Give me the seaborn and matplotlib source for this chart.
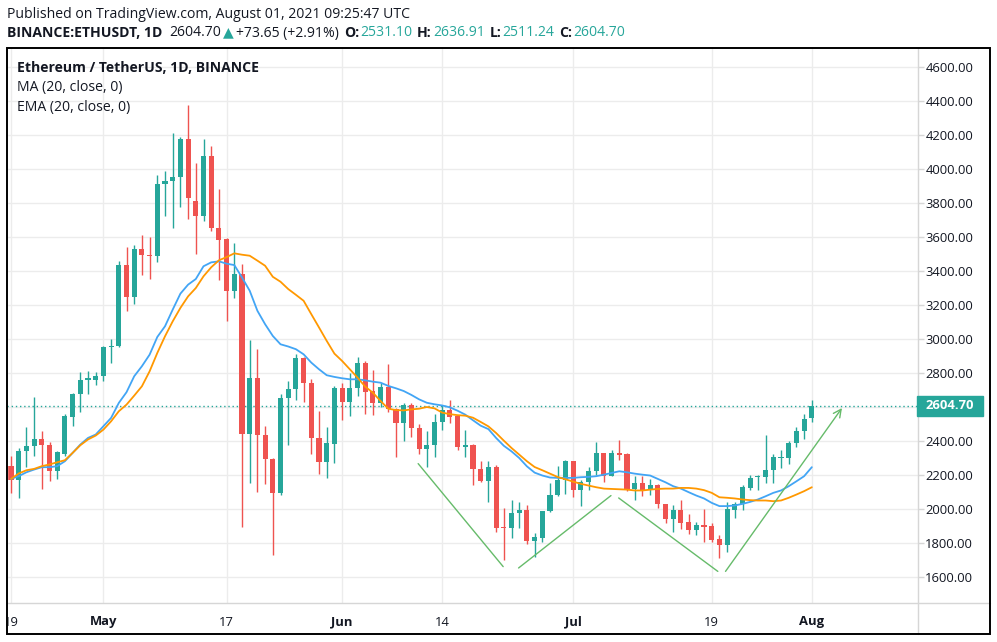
import numpy as np
import pandas as pd
import matplotlib
matplotlib.use("Agg")
import matplotlib.pyplot as plt
import matplotlib.transforms as mtransforms
from matplotlib.patches import Rectangle
from matplotlib.lines import Line2D
import seaborn as sns

W, H = 997, 642

# ETH/USDT daily candles, Apr 19 - Aug 1 2021
dates = pd.date_range("2021-04-19", "2021-08-01", freq="D")

opens = [
    2250, 2167, 2338, 2367, 2407, 2377, 2220, 2324, 2538, 2675, 2755, 2759,
    2779, 2951, 2955, 3434, 3244, 3528, 3494, 3484, 3910, 3926, 3949, 4176, 3812, 3720, 4077, 3653,
    3588, 3280, 3380, 2440, 2769, 2431, 2293, 2093, 2649, 2702, 2885, 2741, 2413, 2276, 2382,
    2712, 2629, 2708, 2859, 2692, 2623, 2718, 2588, 2506, 2610, 2472, 2352, 2372, 2509, 2578,
    2547, 2363, 2373, 2236, 2161, 2244, 1891, 1884, 1972, 1991, 1809, 1829, 1985, 2083, 2167,
    2279, 2107, 2157, 2224, 2328, 2195, 2328, 2322, 2116, 2152, 2112, 2142, 2028, 1942, 1995,
    1921, 1874, 1903, 1897, 1819, 1786, 1995, 2028, 2122, 2185, 2185, 2230, 2298, 2298, 2384, 2459,
    2531.10,
]
highs = [
    2312, 2358, 2481, 2655, 2456, 2390, 2340, 2554, 2681, 2804, 2808, 2804,
    2959, 2998, 3459, 3537, 3551, 3612, 3596, 3965, 3988, 4210, 4184, 4376, 4033, 4175, 4135, 3880,
    3594, 3565, 3440, 2993, 2940, 2486, 2297, 2673, 2751, 2908, 2894, 2761, 2574, 2480, 2722,
    2737, 2800, 2895, 2867, 2816, 2741, 2849, 2590, 2623, 2623, 2500, 2456, 2555, 2610, 2637,
    2550, 2465, 2380, 2279, 2279, 2259, 2005, 2050, 2040, 2019, 1858, 1989, 2152, 2249, 2289,
    2282, 2171, 2244, 2390, 2330, 2347, 2406, 2328, 2191, 2195, 2177, 2148, 2028, 2020, 2048,
    1966, 1923, 1999, 1917, 1844, 2040, 2040, 2142, 2200, 2197, 2431, 2322, 2343, 2396, 2478, 2556,
    2636.91,
]
lows = [
    2093, 2064, 2244, 2309, 2113, 2162, 2177, 2310, 2485, 2567, 2675, 2726,
    2750, 2857, 2950, 3161, 3204, 3377, 3353, 3449, 3724, 3649, 3773, 3704, 3500, 3690, 3631, 3343,
    3105, 3240, 1890, 2152, 2099, 2146, 1729, 2079, 2374, 2639, 2627, 2323, 2205, 2181, 2270,
    2521, 2545, 2663, 2555, 2553, 2600, 2570, 2305, 2400, 2421, 2319, 2248, 2305, 2460, 2504,
    2347, 2302, 2138, 2157, 2040, 1864, 1698, 1825, 1888, 1794, 1717, 1805, 1981, 2077, 2089,
    2067, 2015, 2112, 2197, 2157, 2191, 2285, 2105, 2048, 2073, 2083, 2005, 1917, 1864, 1882,
    1852, 1844, 1805, 1805, 1708, 1747, 1946, 1991, 2107, 2107, 2152, 2152, 2240, 2263, 2361, 2412,
    2511.24,
]
closes = [
    2167, 2342, 2371, 2407, 2375, 2220, 2332, 2544, 2677, 2759, 2767, 2783,
    2951, 2959, 3434, 3244, 3528, 3490, 3484, 3912, 3930, 3949, 4176, 3826, 3720, 4077, 3649, 3583,
    3280, 3380, 2440, 2769, 2431, 2293, 2093, 2649, 2702, 2885, 2741, 2413, 2276, 2386, 2712,
    2629, 2712, 2859, 2688, 2623, 2718, 2588, 2506, 2610, 2472, 2352, 2372, 2509, 2578, 2539,
    2363, 2373, 2234, 2161, 2244, 1888, 1884, 1972, 1991, 1809, 1833, 1985, 2083, 2167, 2279,
    2107, 2157, 2224, 2328, 2195, 2328, 2318, 2116, 2152, 2112, 2142, 2028, 1942, 1995, 1913,
    1874, 1903, 1891, 1815, 1786, 1999, 2028, 2126, 2181, 2193, 2230, 2302, 2302, 2384, 2459, 2529,
    2604.70,
]

# MA (20) - orange line
ma20 = [
    2175, 2207, 2226, 2234, 2250, 2260, 2273, 2285, 2328, 2373, 2407, 2430,
    2465, 2514, 2573, 2612, 2665, 2720, 2808, 2916, 3014, 3102, 3181, 3249, 3298, 3367, 3420, 3461,
    3480, 3502, 3494, 3488, 3459, 3429, 3364, 3335, 3292, 3258, 3223, 3144, 3066, 2987, 2912,
    2869, 2820, 2771, 2718, 2682, 2633, 2588, 2580, 2578, 2584, 2588, 2598, 2590, 2565, 2556,
    2550, 2547, 2535, 2510, 2484, 2445, 2400, 2357, 2318, 2279, 2245, 2226, 2206, 2186, 2173,
    2159, 2146, 2136, 2126, 2118, 2116, 2114, 2112, 2107, 2107, 2112, 2116, 2118, 2118, 2122,
    2122, 2118, 2109, 2093, 2067, 2064, 2060, 2054, 2050, 2048, 2048, 2044, 2048, 2064, 2083, 2103,
    2126,
]
# EMA (20) - blue line
ema20 = [
    2175, 2191, 2214, 2230, 2244, 2244, 2250, 2279, 2328, 2377, 2416, 2436,
    2485, 2534, 2622, 2685, 2779, 2838, 2906, 3010, 3073, 3171, 3265, 3318, 3351, 3426, 3449, 3455,
    3441, 3433, 3360, 3282, 3164, 3085, 3016, 2967, 2954, 2938, 2908, 2859, 2820, 2785, 2775,
    2767, 2761, 2761, 2755, 2747, 2741, 2722, 2708, 2692, 2669, 2643, 2623, 2614, 2607, 2596,
    2576, 2553, 2520, 2488, 2468, 2416, 2370, 2337, 2298, 2249, 2212, 2195, 2183, 2181, 2181,
    2181, 2185, 2187, 2191, 2200, 2210, 2220, 2214, 2206, 2200, 2195, 2175, 2155, 2132, 2118,
    2097, 2077, 2060, 2034, 2015, 2015, 2019, 2028, 2040, 2054, 2073, 2093, 2107, 2132, 2161, 2191,
    2244,
]

# hand drawn "double bottom" lines (time, price)
draw_times = ["2021-06-10 21:00", "2021-06-21 22:00", "2021-06-23 22:00", "2021-07-05 22:00",
              "2021-07-06 22:00", "2021-07-19 19:00", "2021-07-20 19:00", "2021-08-04 22:00"]
draw_prices = [2265, 1659, 1651, 2077, 2063, 1631, 1631, 2592]

last_price = 2604.70
price_ticks = list(range(1600, 4601, 200))
date_ticks = ["2021-04-19", "2021-05-01", "2021-05-17", "2021-06-01",
              "2021-06-14", "2021-07-01", "2021-07-19", "2021-08-01"]
date_labels = ["19", "May", "17", "Jun", "14", "Jul", "19", "Aug"]

GREEN = "#26a69a"
RED = "#ef5350"
BLUE = "#42a5f5"
ORANGE = "#ff9800"
TEXT = "#131722"
GRID = "#ececec"
SEP = "#d6d6d6"
FS = 9.4      # axis labels
FS_TXT = 10.05  # header / legend

sns.set_style("white")
plt.rcParams["font.family"] = ["Open Sans", "DejaVu Sans"]

df = pd.DataFrame({"date": dates, "open": opens, "high": highs, "low": lows,
                   "close": closes, "ma": ma20, "ema": ema20})

fig = plt.figure(figsize=(W / 100, H / 100), dpi=100)
ax = fig.add_axes([7 / W, 1 - 603 / H, (917.7 - 7) / W, (603 - 48) / H])

# candles
up = df["close"] >= df["open"]
cols = np.where(up, GREEN, RED)
ax.vlines(df["date"], df["low"], df["high"], colors=cols, lw=1, zorder=3)
ax.bar(df["date"], (df["close"] - df["open"]).abs().clip(lower=8),
       bottom=df[["open", "close"]].min(axis=1), width=0.66, color=cols,
       linewidth=0, zorder=4)

# moving averages
sns.lineplot(data=df, x="date", y="ema", ax=ax, color=BLUE, lw=1.3, zorder=5)
sns.lineplot(data=df, x="date", y="ma", ax=ax, color=ORANGE, lw=1.3, zorder=5)

# last price dotted line
ax.axhline(last_price, color=GREEN, lw=1, ls=(0, (1, 2)), zorder=2)

# drawing: W pattern
tt = pd.to_datetime(draw_times)
for i in range(0, 6, 2):
    ax.plot(tt[i:i + 2], draw_prices[i:i + 2], color="#66bb6a", lw=1, zorder=6)
ax.annotate("", xy=(tt[7], draw_prices[7]), xytext=(tt[6], draw_prices[6]),
            arrowprops=dict(arrowstyle="->", color="#66bb6a", lw=1,
                            shrinkA=0, shrinkB=0, mutation_scale=14), zorder=6)

ax.set_xlim(dates[0] - pd.Timedelta(days=0.52), dates[0] + pd.Timedelta(days=117.75))
ax.set_ylim(1445, 4710)
ax.set_xlabel("")
ax.set_ylabel("")

ax.set_yticks(price_ticks)
# the 2600 label sits under the last-price tag, as in the original
ax.set_yticklabels(["" if abs(p - last_price) < 60 else f"{p:.2f}" for p in price_ticks])
ax.yaxis.tick_right()
ax.set_xticks(pd.to_datetime(date_ticks))
ax.set_xticklabels(date_labels)
for lab in ax.get_xticklabels():
    if lab.get_text().isalpha():
        lab.set_fontweight("bold")
ax.tick_params(axis="y", length=4, width=1, color=SEP, pad=1.5, labelsize=FS, labelcolor=TEXT)
ax.tick_params(axis="x", length=4, width=1, color=SEP, pad=5, labelsize=FS, labelcolor=TEXT)
ax.grid(True, color=GRID, lw=1)
ax.set_axisbelow(True)
for s in ax.spines.values():
    s.set_visible(False)

# frame, separators, mask for the cut tick label
fig.add_artist(Rectangle((0, 0), 7 / W, 1 - 48 / H, transform=fig.transFigure,
                         color="white", zorder=9))
fig.add_artist(Line2D([917.7 / W] * 2, [1 - 48 / H, 1 - 634 / H], color=SEP, lw=1, zorder=9))
fig.add_artist(Line2D([7 / W, 990 / W], [1 - 603 / H] * 2, color=SEP, lw=1, zorder=9))
fig.add_artist(Rectangle((7 / W, 1 - 634 / H), (990 - 7) / W, (634 - 48) / H,
                         transform=fig.transFigure, fill=False, ec="black", lw=1.4, zorder=10))

# last price tag
blend = mtransforms.blended_transform_factory(fig.transFigure, ax.transData)
fig.add_artist(Rectangle((917 / W, last_price - 57), 66 / W, 114, transform=blend,
                         color=GREEN, zorder=11))
fig.text(950 / W, last_price, f"{last_price:.2f}", transform=blend, color="white",
         fontsize=FS, fontweight="bold", ha="center", va="center", zorder=12)

# legend lines inside the pane
fig.text(17 / W, 1 - 68 / H, "Ethereum / TetherUS, 1D, BINANCE", fontsize=FS_TXT,
         fontweight="bold", color=TEXT, va="center")
fig.text(17 / W, 1 - 88 / H, "MA (20, close, 0)", fontsize=FS_TXT, color=TEXT, va="center")
fig.text(17 / W, 1 - 107 / H, "EMA (20, close, 0)", fontsize=FS_TXT, color=TEXT, va="center")

# header
fig.text(7 / W, 1 - 14 / H, "Published on TradingView.com, August 01, 2021 09:25:47 UTC",
         fontsize=FS_TXT, color=TEXT, va="center")

renderer = fig.canvas.get_renderer()
pieces = [
    ("BINANCE:ETHUSDT, 1D", TEXT, "bold", 7),
    ("2604.70", TEXT, "normal", 2),
    ("\u25b2", GREEN, "normal", 2),
    ("+73.65 (+2.91%)", TEXT, "normal", 5),
    ("O:", TEXT, "bold", 1),
    ("2531.10", GREEN, "normal", 5),
    ("H:", TEXT, "bold", 1),
    ("2636.91", GREEN, "normal", 5),
    ("L:", TEXT, "bold", 1),
    ("2511.24", GREEN, "normal", 5),
    ("C:", TEXT, "bold", 1),
    ("2604.70", GREEN, "normal", 0),
]
x = 7
for txt, col, wt, gap in pieces:
    t = fig.text(x / W, 1 - 33 / H, txt, fontsize=FS_TXT, color=col, fontweight=wt, va="center")
    bb = t.get_window_extent(renderer=renderer)
    x = bb.x1 + gap

fig.savefig("out.png", dpi=100, facecolor="white")
